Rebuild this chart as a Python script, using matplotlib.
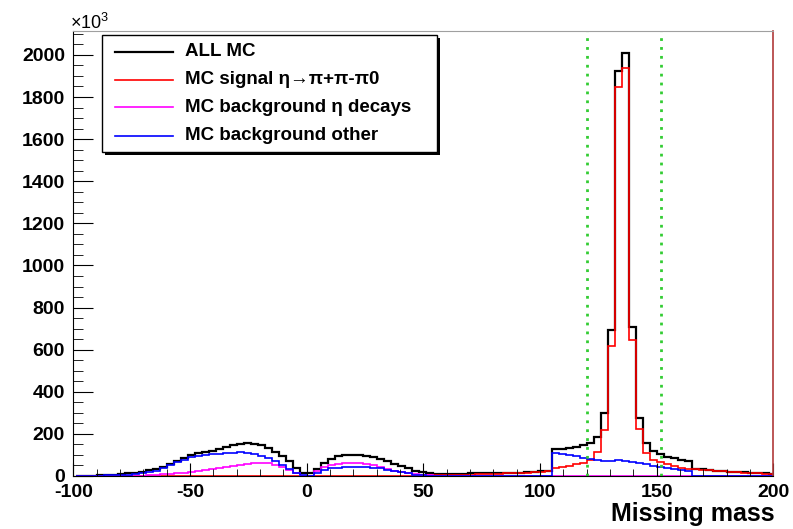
import numpy as np
import matplotlib
matplotlib.use("Agg")
import matplotlib.pyplot as plt
from matplotlib.ticker import MultipleLocator
from matplotlib.patches import Rectangle
from matplotlib.lines import Line2D

plt.rcParams["font.family"] = ["Liberation Sans", "DejaVu Sans"]
plt.rcParams["mathtext.default"] = "regular"
plt.rcParams["axes.unicode_minus"] = False

# histogram binning: 100 bins of width 3 (lower edges -99, -96, ... 198)
bin_edges = np.arange(-99, 202, 3)

# values in units of 10^3, ten bins per row
all_mc = [
    1, 1, 2, 3, 5, 7, 10, 13, 16, 20,
    27, 34, 44, 58, 73, 87, 100, 108, 114, 120,
    130, 139, 145, 151, 155, 153, 146, 133, 116, 94,
    70, 38, 14, 12, 33, 60, 82, 93, 98, 100,
    99, 95, 90, 82, 70, 57, 46, 36, 26, 18,
    13, 11, 11, 11, 11, 11, 12, 12, 12, 13,
    13, 14, 15, 16, 17, 19, 22, 26, 127, 129,
    132, 139, 147, 158, 187, 300, 694, 1925, 2010, 709,
    274, 158, 119, 103, 92, 84, 76, 71, 34, 31,
    28, 26, 23, 21, 19, 17, 15, 13, 12, 11,
]
mc_signal = [
    0, 0, 0, 0, 0, 0, 1, 1, 1, 1,
    1, 1, 1, 2, 2, 2, 2, 2, 2, 2,
    2, 2, 2, 2, 2, 2, 2, 2, 2, 2,
    2, 2, 2, 2, 2, 2, 2, 2, 2, 2,
    2, 2, 2, 2, 2, 2, 2, 2, 2, 3,
    3, 3, 4, 4, 5, 6, 7, 8, 9, 10,
    11, 12, 13, 14, 15, 17, 20, 23, 36, 42,
    48, 55, 62, 76, 116, 218, 619, 1846, 1937, 646,
    222, 109, 76, 68, 57, 48, 40, 35, 32, 30,
    27, 25, 22, 20, 18, 16, 14, 12, 11, 10,
]
bg_eta = [
    0, 0, 0, 0, 0, 0, 0, 1, 1, 2,
    4, 6, 8, 10, 13, 16, 20, 24, 28, 32,
    38, 44, 48, 52, 57, 60, 63, 60, 51, 42,
    29, 12, 2, 1, 22, 42, 52, 57, 61, 63,
    61, 57, 50, 41, 33, 25, 18, 12, 8, 5,
    3, 2, 2, 2, 2, 2, 2, 2, 2, 2,
    2, 2, 2, 2, 2, 2, 2, 2, 2, 2,
    2, 2, 2, 2, 2, 2, 2, 2, 2, 1,
    1, 1, 1, 1, 1, 1, 1, 1, 1, 1,
    1, 1, 1, 1, 1, 1, 1, 1, 1, 1,
]
bg_other = [
    1, 1, 1, 2, 3, 4, 5, 7, 9, 13,
    18, 26, 38, 50, 66, 78, 90, 96, 100, 103,
    106, 110, 111, 112, 110, 103, 95, 84, 70, 50,
    32, 16, 4, 2, 15, 29, 36, 40, 43, 44,
    44, 42, 39, 36, 30, 24, 18, 12, 7, 3,
    2, 1, 1, 1, 1, 1, 1, 1, 1, 1,
    1, 1, 1, 1, 1, 1, 1, 1, 108, 104,
    99, 93, 87, 81, 76, 73, 73, 76, 71, 66,
    62, 55, 48, 42, 37, 33, 29, 25, 0, 0,
    0, 0, 0, 0, 0, 0, 0, 0, 0, 0,
]
cut_lines = [120, 152]

legend_labels = ["ALL MC", "MC signal η→π+π-π0",
                 "MC background η decays", "MC background other"]

W, H = 793, 529
fig = plt.figure(figsize=(W / 100, H / 100), dpi=100)
ax = fig.add_axes([73.3 / W, 1 - 476 / H, 700 / W, 445.3 / H])

series = [
    (all_mc, "black", 1.6),
    (mc_signal, "#ff0000", 1.2),
    (bg_eta, "#ff00ff", 1.2),
    (bg_other, "#0000ff", 1.2),
]
for vals, col, lw in series:
    ax.stairs(vals, bin_edges, baseline=0, color=col, lw=lw)

for xc in cut_lines:
    ax.axvline(xc, color="#33cc33", lw=2, ls=(0, (1, 2.2)))

ax.set_xlim(-100, 200)
ax.set_ylim(0, 2115)

ax.xaxis.set_major_locator(MultipleLocator(50))
ax.xaxis.set_minor_locator(MultipleLocator(10))
ax.yaxis.set_major_locator(MultipleLocator(200))
ax.yaxis.set_minor_locator(MultipleLocator(50))
ax.tick_params(which="both", direction="in", top=False, right=False)
ax.xaxis.set_tick_params(which="major", length=9.4, pad=6)
ax.xaxis.set_tick_params(which="minor", length=4.7)
ax.yaxis.set_tick_params(which="major", length=14.4, pad=6)
ax.yaxis.set_tick_params(which="minor", length=7.2)
for lab in ax.get_xticklabels() + ax.get_yticklabels():
    lab.set_fontweight("bold")
    lab.set_fontsize(14)

ax.spines["top"].set_color("#a0a0a0")
ax.spines["right"].set_color("#b03a3a")
ax.spines["right"].set_linewidth(1.2)

fig.text(70 / W, 1 - 29 / H, "×10$^{3}$", fontsize=13, ha="left", va="baseline")
fig.text(775 / W, 1 - 521 / H, "Missing mass", fontsize=18, fontweight="bold",
         ha="right", va="baseline")


# legend box drawn in figure pixels to match the reference layout
def fx(x):
    return x / W


def fy(y):
    return 1 - y / H


bx0, by0, bx1, by1 = 102, 35, 437, 152
fig.add_artist(Rectangle((fx(bx0 + 3), fy(by1 + 3)), (bx1 - bx0) / W, (by1 - by0) / H,
                         transform=fig.transFigure, facecolor="black",
                         edgecolor="none", zorder=5))
fig.add_artist(Rectangle((fx(bx0), fy(by1)), (bx1 - bx0) / W, (by1 - by0) / H,
                         transform=fig.transFigure, facecolor="white",
                         edgecolor="black", lw=1, zorder=6))
entry_y = [51.7, 80, 107.3, 136]
for (vals, col, lw), label, yy in zip(series, legend_labels, entry_y):
    fig.add_artist(Line2D([fx(115), fx(173)], [fy(yy), fy(yy)],
                          transform=fig.transFigure, color=col, lw=lw, zorder=7))
    fig.text(fx(185), fy(yy), label, fontsize=13.5, fontweight="bold",
             ha="left", va="center", zorder=7)

fig.savefig("out.png", dpi=100)
